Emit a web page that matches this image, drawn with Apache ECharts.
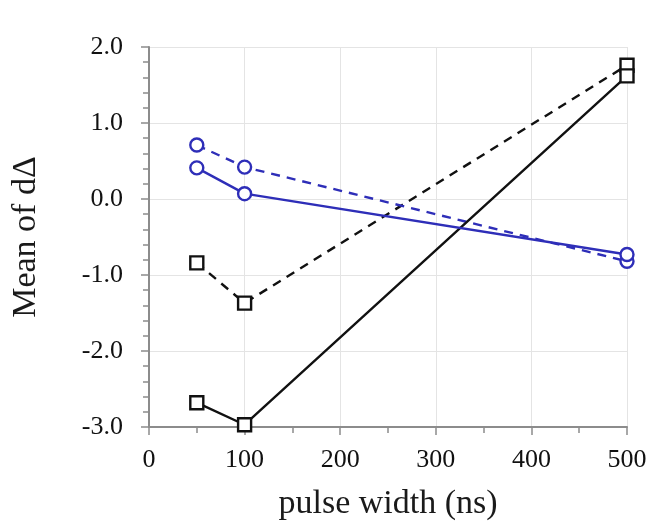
<!DOCTYPE html>
<html>
<head>
<meta charset="utf-8">
<script src="https://cdn.jsdelivr.net/npm/echarts@6/dist/echarts.min.js"></script>
<style>html,body{margin:0;padding:0;background:#fff}#c{width:657px;height:526px}</style>
</head>
<body>
<div id="c"></div>
<script>
var xTicks = [0, 100, 200, 300, 400, 500];
var yTicks = [-3, -2, -1, 0, 1, 2];
var pulseWidth = [50, 100, 500];
var blueSolid = [0.41, 0.07, -0.73];
var blueDashed = [0.71, 0.42, -0.82];
var blackSolid = [-2.68, -2.97, 1.62];
var blackDashed = [-0.84, -1.37, 1.76];

var BLUE = '#2e2eb8';
var BLACK = '#111111';
var FONT = 'Liberation Serif';

function pairs(ys) { return pulseWidth.map(function (x, i) { return [x, ys[i]]; }); }
function mk(name, ys, color, dashed, symbol) {
  return {
    name: name, type: 'line', data: pairs(ys),
    symbol: symbol, symbolSize: 13,
    lineStyle: { color: color, width: 2.4, type: dashed ? [9, 7] : 'solid' },
    itemStyle: { color: '#fff', borderColor: color, borderWidth: 2.4 },
    z: dashed ? 3 : 4,
    animation: false
  };
}

var chart = echarts.init(document.getElementById('c'));
chart.setOption({
  backgroundColor: '#fff',
  animation: false,
  grid: { left: 149, right: 30, top: 47, bottom: 99, containLabel: false },
  xAxis: {
    type: 'value', min: xTicks[0], max: xTicks[xTicks.length - 1], interval: 100,
    name: 'pulse width (ns)', nameLocation: 'middle', nameGap: 60,
    nameTextStyle: { fontFamily: FONT, fontSize: 34, color: '#1a1a1a' },
    axisLine: { show: true, onZero: false, lineStyle: { color: '#8c8c8c', width: 2 } },
    axisTick: { show: true, length: 8, lineStyle: { color: '#8c8c8c', width: 1.5 } },
    minorTick: { show: true, splitNumber: 2, length: 6, lineStyle: { color: '#8c8c8c', width: 1.5 } },
    splitLine: { show: true, lineStyle: { color: '#e4e4e4', width: 1 } },
    axisLabel: { margin: 20, fontFamily: FONT, fontSize: 26, color: '#111' }
  },
  yAxis: {
    type: 'value', min: yTicks[0], max: yTicks[yTicks.length - 1], interval: 1,
    name: 'Mean of dΔ', nameLocation: 'middle', nameGap: 106, nameRotate: 90,
    nameTextStyle: { fontFamily: FONT, fontSize: 34, color: '#1a1a1a' },
    axisLine: { show: true, onZero: false, lineStyle: { color: '#8c8c8c', width: 2 } },
    axisTick: { show: true, length: 8, lineStyle: { color: '#8c8c8c', width: 1.5 } },
    minorTick: { show: true, splitNumber: 5, length: 6, lineStyle: { color: '#8c8c8c', width: 1.5 } },
    splitLine: { show: true, lineStyle: { color: '#e4e4e4', width: 1 } },
    axisLabel: { margin: 26, fontFamily: FONT, fontSize: 26, color: '#111',
      formatter: function (v) { return v.toFixed(1); } }
  },
  series: [
    mk('black dashed', blackDashed, BLACK, true, 'rect'),
    mk('blue dashed', blueDashed, BLUE, true, 'circle'),
    mk('black solid', blackSolid, BLACK, false, 'rect'),
    mk('blue solid', blueSolid, BLUE, false, 'circle')
  ]
});
</script>
</body>
</html>
